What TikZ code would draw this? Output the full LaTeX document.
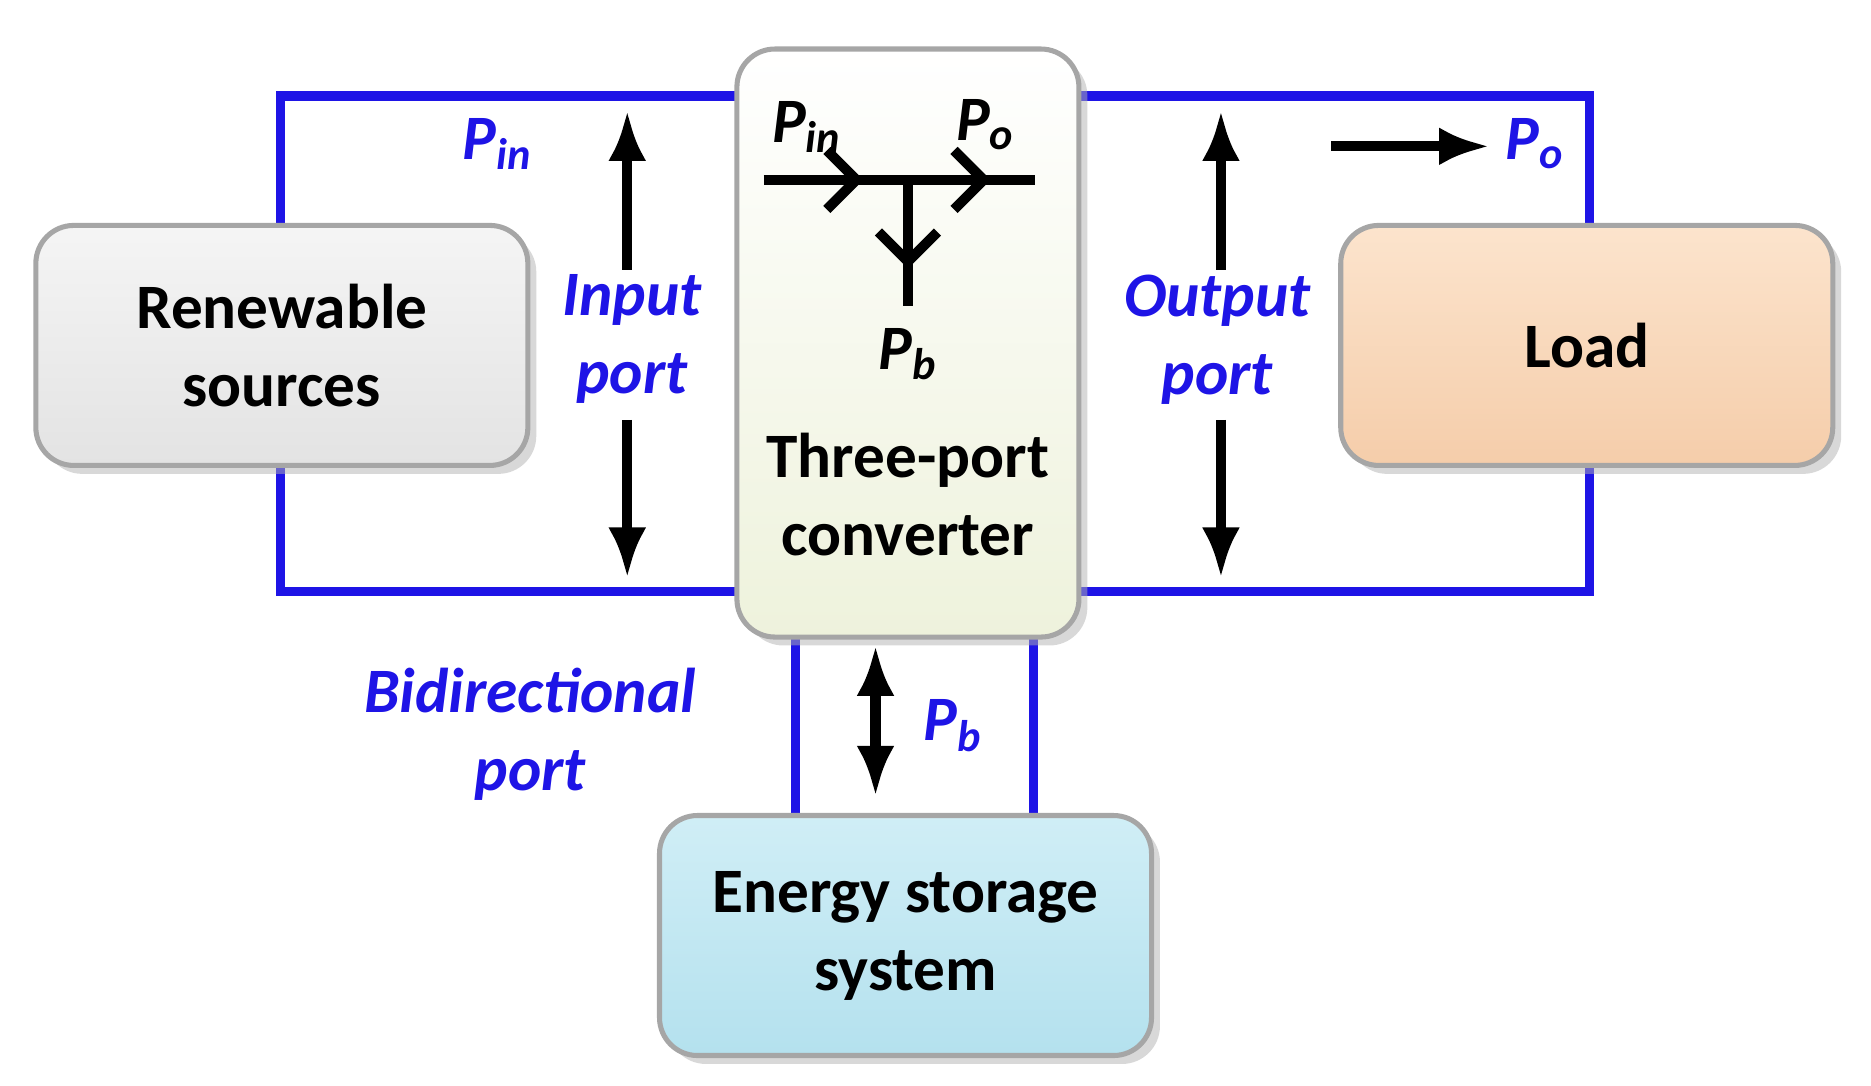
\documentclass[tikz,border=0pt]{standalone}
\usepackage{fontspec}
\setmainfont{Carlito}
\usetikzlibrary{arrows.meta,shadows,positioning}
\definecolor{pblue}{RGB}{30,20,230}
\begin{document}
\begin{tikzpicture}[x=0.01cm,y=-0.01cm,
  box/.style={draw=gray!70,line width=1.2pt,rounded corners=9pt,
    drop shadow={shadow xshift=2pt,shadow yshift=-2pt,fill=gray!60},
    font=\fontsize{15}{18.5}\selectfont\bfseries,align=center},
  wire/.style={pblue,line width=2.2pt},
  pw/.style={black,line width=2.4pt,-{Latex[length=12pt,width=9pt]}},
  dpw/.style={black,line width=2.4pt,{Latex[length=12pt,width=9pt]}-{Latex[length=12pt,width=9pt]}},
  barb/.style={line width=2.4pt,-{Straight Barb[length=7pt,width=14pt]}},
  lbl/.style={pblue,font=\fontsize{15}{18.5}\selectfont\bfseries\itshape,align=center},
  blk/.style={black,font=\fontsize{15}{18.5}\selectfont\bfseries\itshape}]
\useasboundingbox (0,0) rectangle (1560,905);

% wires
\draw[wire] (613,80) -- (234,80) -- (234,190);
\draw[wire] (234,386) -- (234,493) -- (613,493);
\draw[wire] (900,80) -- (1325,80) -- (1325,190);
\draw[wire] (1325,386) -- (1325,493) -- (900,493);
\draw[wire] (663,530) -- (663,682);
\draw[wire] (862,530) -- (862,682);

% boxes
\node[box,top color=gray!8,bottom color=gray!22,minimum width=4.1cm,minimum height=2cm] (ren) at (235,288) {Renewable\\sources};
\node[box,top color=white,bottom color={rgb,255:red,238;green,242;blue,220},minimum width=2.85cm,minimum height=4.9cm] (tpc) at (757,286) {};
\node[box,top color={rgb,255:red,252;green,228;blue,205},bottom color={rgb,255:red,245;green,205;blue,170},minimum width=4.1cm,minimum height=2cm] (load) at (1323,288) {Load};
\node[box,top color={rgb,255:red,208;green,238;blue,246},bottom color={rgb,255:red,180;green,225;blue,238},minimum width=4.1cm,minimum height=2cm] (ess) at (755,780) {Energy storage\\system};

% converter contents
\coordinate (a1) at (637,150); \coordinate (a2) at (720,150);
\coordinate (j) at (757,150); \coordinate (a3) at (826,150);
\coordinate (a4) at (863,150); \coordinate (b1) at (757,224); \coordinate (b2) at (757,255);
\draw[line width=2.4pt] (a1) -- (a4);
\draw[line width=2.4pt] (j) -- (b2);
\draw[barb] (a1) -- (a2);
\draw[barb] (j) -- (a3);
\draw[barb] (j) -- (b1);
\node[blk] (cin) at (673,106) {P\textsubscript{in}};
\node[blk] (co) at (822,104) {P\textsubscript{o}};
\node[blk] (cb) at (757,295) {P\textsubscript{b}};
\node[font=\fontsize{15}{18.5}\selectfont\bfseries,align=center] (tpct) at (757,412) {Three-port\\converter};

% port arrows
\coordinate (i1) at (523,92); \coordinate (i2) at (523,225);
\coordinate (i3) at (523,350); \coordinate (i4) at (523,482);
\draw[pw] (i2) -- (i1); \draw[pw] (i3) -- (i4);
\node[lbl] (inp) at (527,283) {Input\\port};
\coordinate (o1) at (1018,92); \coordinate (o2) at (1018,225);
\coordinate (o3) at (1018,350); \coordinate (o4) at (1018,482);
\draw[pw] (o2) -- (o1); \draw[pw] (o3) -- (o4);
\node[lbl] (outp) at (1015,283) {Output\\port};
\node[lbl] (pin) at (415,120) {P\textsubscript{in}};
\coordinate (l1) at (1110,122); \coordinate (l2) at (1242,122);
\draw[pw] (l1) -- (l2);
\node[lbl] (po) at (1280,120) {P\textsubscript{o}};
\coordinate (d1) at (730,538); \coordinate (d2) at (730,664);
\draw[dpw] (d1) -- (d2);
\node[lbl] (pb) at (795,605) {P\textsubscript{b}};
\node[lbl] (bid) at (442,612) {Bidirectional\\port};
\end{tikzpicture}
\end{document}
